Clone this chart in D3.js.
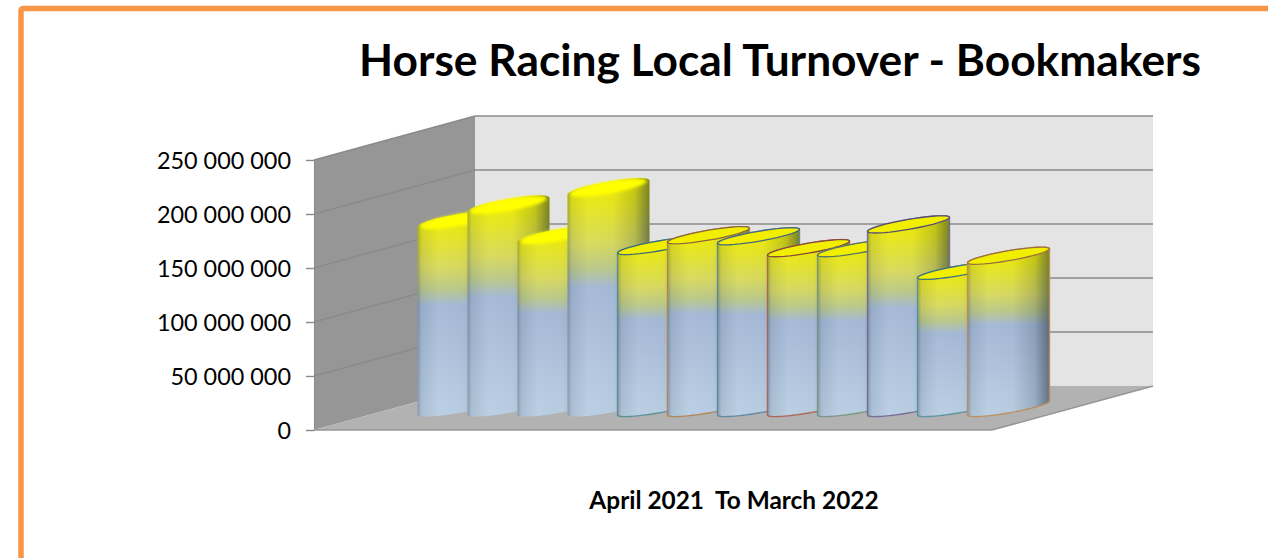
<!DOCTYPE html>
<html>
<head>
<meta charset="utf-8">
<style>
  html, body { margin: 0; padding: 0; background: #fff; overflow: hidden; }
  svg { display: block; }
  text { font-family: Lato, "Open Sans", sans-serif; fill: #000; }
</style>
<script src="https://cdn.jsdelivr.net/npm/d3@7"></script>
</head>
<body>
<svg class="chart" width="1268" height="558"></svg>
<script>
var months = ["Apr 21", "May 21", "Jun 21", "Jul 21", "Aug 21", "Sep 21", "Oct 21", "Nov 21", "Dec 21", "Jan 22", "Feb 22", "Mar 22"];
var turnover = [174000000, 188000000, 160000000, 204000000, 150000000, 160000000, 159000000, 148000000, 148000000, 170000000, 127000000, 141000000];
var yTicks = [0, 50000000, 100000000, 150000000, 200000000, 250000000];

var titleText = "Horse Racing Local Turnover - Bookmakers";
var captionText = "April 2021  To March 2022";

// outline colour per column, first four have a soft bevel and no outline
var rims = [null, null, null, null, "#4f8a90", "#b0804c", "#55829c", "#a85c48", "#70947c", "#6c6290", "#4f8f9c", "#c08a50"];

var svg = d3.select("svg.chart");
var defs = svg.append("defs");

// page frame, runs off the right and bottom
svg.append("path")
  .attr("d", "M21,570 V11 Q21,8.5 24,8.5 H1280")
  .attr("fill", "none")
  .attr("stroke", "#f79646")
  .attr("stroke-width", 5.5);

// front plane of the box and how far the back wall is pushed away
var frontLeft = 314, frontRight = 992, depthX = 161, depthY = -44;

var y = d3.scaleLinear().domain([0, 250000000]).range([430, 160]);
var x = d3.scalePoint().domain(months).range([458.5, 1008.5]);

var line = d3.line();

// walls + floor
svg.append("path")
  .attr("d", line([[frontLeft, y(0)], [frontLeft, y(250000000)], [frontLeft + depthX, y(250000000) + depthY], [frontLeft + depthX, y(0) + depthY]]) + "Z")
  .attr("fill", "#969696");
svg.append("path")
  .attr("d", line([[frontLeft + depthX, y(0) + depthY], [frontLeft + depthX, y(250000000) + depthY], [frontRight + depthX, y(250000000) + depthY], [frontRight + depthX, y(0) + depthY]]) + "Z")
  .attr("fill", "#e4e4e4");
svg.append("path")
  .attr("d", line([[frontLeft, y(0)], [frontLeft + depthX, y(0) + depthY], [frontRight + depthX, y(0) + depthY], [frontRight, y(0)]]) + "Z")
  .attr("fill", "#b2b2b2");

// gridlines, side wall then back wall
svg.append("g").selectAll("path")
  .data(yTicks.slice(1))
  .enter()
  .append("path")
  .attr("d", function(d) {
    return line([[frontLeft, y(d)], [frontLeft + depthX, y(d) + depthY], [frontRight + depthX, y(d) + depthY]]);
  })
  .attr("fill", "none")
  .attr("stroke", "#8a8a8a")
  .attr("stroke-width", 1.4);

svg.append("path")
  .attr("d", line([[frontLeft, y(0)], [frontRight, y(0)], [frontRight + depthX, y(0) + depthY]]))
  .attr("fill", "none")
  .attr("stroke", "#969696")
  .attr("stroke-width", 1.5);

// axis
var axis = svg.append("g")
  .attr("transform", "translate(" + frontLeft + ",0)")
  .call(d3.axisLeft(y)
    .tickValues(yTicks)
    .tickSize(8)
    .tickPadding(15)
    .tickFormat(function(d) { return d3.format(",")(d).replace(/,/g, " "); }));
axis.select(".domain").attr("stroke", "#8a8a8a");
axis.selectAll(".tick line").attr("stroke", "#8a8a8a").attr("stroke-width", 1.4);
axis.selectAll(".tick text")
  .style("font-size", "23.4px")
  .attr("dy", "0.36em")
  .attr("fill", "#000");

// gradients shared by the columns
var bodyGrad = defs.append("linearGradient").attr("id", "body").attr("x1", 0).attr("y1", 0).attr("x2", 0).attr("y2", 1);
[[0, "#f6f200"], [0.08, "#ecea14"], [0.28, "#d8da62"], [0.38, "#bcca8c"], [0.46, "#a6bad8"], [1, "#bcd0e4"]].forEach(function(s) {
  bodyGrad.append("stop").attr("offset", s[0]).attr("stop-color", s[1]);
});
var shadeGrad = defs.append("linearGradient").attr("id", "shade").attr("x1", 0).attr("y1", 0).attr("x2", 1).attr("y2", 0);
[[0, 0.32], [0.05, 0.1], [0.25, 0], [0.55, 0.02], [0.82, 0.2], [1, 0.55]].forEach(function(s) {
  shadeGrad.append("stop").attr("offset", s[0]).attr("stop-color", "#1a2a3a").attr("stop-opacity", s[1]);
});
defs.append("filter").attr("id", "soft").append("feGaussianBlur").attr("stdDeviation", 1.8);
defs.append("filter").attr("id", "tiny").append("feGaussianBlur").attr("stdDeviation", 0.6);

// cap of a column: a sheared ellipse, power < 1 squares off the ends
var halfW = 41, shear = 7, halfH = 5, backOffset = depthY / 2;

function capArc(cx, cy, from, to, a, b, power) {
  return d3.range(0, 41).map(function(i) {
    var t = from + (to - from) * i / 40,
        c = Math.cos(t), s = Math.sin(t),
        px = Math.sign(c) * Math.pow(Math.abs(c), power);
    return [cx + a * px, cy - shear * (a / halfW) * px + b * s];
  });
}

function columnPath(d, power) {
  var cx = x(d.month), top = y(d.value) + backOffset, base = y(0) + backOffset;
  var upper = capArc(cx, top, Math.PI, 2 * Math.PI, halfW, halfH + (power < 1 ? 1 : 0), power);
  var lower = capArc(cx, base, 0, Math.PI, halfW, halfH, 1);
  return line(upper.concat(lower)) + "Z";
}

function capPath(d, a, b, power) {
  var cx = x(d.month), top = y(d.value) + backOffset;
  return line(capArc(cx, top, 0, 2 * Math.PI, a, b, power)) + "Z";
}

var rows = months.map(function(m, i) { return {month: m, value: turnover[i], rim: rims[i]}; });

var column = svg.append("g").attr("filter", "url(#tiny)").selectAll(".column")
  .data(rows)
  .enter()
  .append("g")
  .attr("class", "column");

column.append("path")
  .attr("d", function(d) { return columnPath(d, d.rim ? 1 : 0.75); })
  .attr("fill", "url(#body)");

column.append("path")
  .attr("d", function(d) { return columnPath(d, d.rim ? 1 : 0.75); })
  .attr("fill", "url(#shade)")
  .attr("stroke", function(d) { return d.rim || "none"; })
  .attr("stroke-opacity", 0.85)
  .attr("stroke-width", 1.4);

// caps
column.append("path")
  .attr("d", function(d) {
    return d.rim ? capPath(d, halfW, halfH, 1) : capPath(d, halfW - 3, halfH + 1, 1);
  })
  .attr("fill", function(d) { return d.rim ? "#f2ee00" : "#ffff00"; })
  .attr("stroke", function(d) { return d.rim ? d3.color(d.rim).darker(0.6) : "none"; })
  .attr("stroke-width", 1.3)
  .attr("filter", function(d) { return d.rim ? null : "url(#soft)"; });

// title + caption
svg.append("text")
  .attr("x", 780)
  .attr("y", 76)
  .attr("text-anchor", "middle")
  .style("font-size", "44.3px")
  .style("font-weight", 700)
  .text(titleText);

svg.append("text")
  .attr("x", 734)
  .attr("y", 509)
  .attr("text-anchor", "middle")
  .style("font-size", "24.4px")
  .style("font-weight", 700)
  .style("white-space", "pre")
  .text(captionText);
</script>
</body>
</html>
